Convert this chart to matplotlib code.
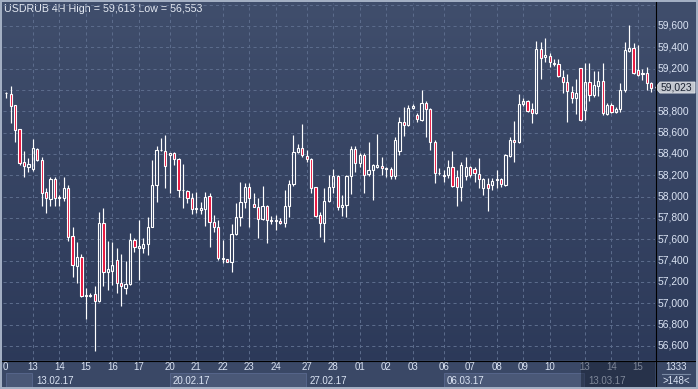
#!/usr/bin/env python3
"""
USDRUB 4H - grafico de velas (estilo terminal de trading)
Salva a figura em out.png (698x389 px).
"""

import numpy as np
import matplotlib
matplotlib.use('Agg')
import matplotlib.pyplot as plt
from matplotlib.patches import Rectangle, Polygon

W, H = 698, 389

# --- dados OHLC (um candle a cada 4 horas) ---
opens = [58969, 58962, 58859, 58632, 58322, 58281, 58259, 58444, 58344, 58041,
         57978, 58166, 57985, 57985, 58078, 57631, 57353, 57432, 57069, 57069,
         57085, 57025, 57750, 57297, 57306, 57406, 57193, 57148, 57181, 57594,
         57522, 57516, 57553, 57718, 58109, 58437, 58428, 58388, 58407, 58350,
         58062, 58056, 57985, 57882, 57875, 57882, 58006, 57766, 57713, 57413,
         57413, 57390, 57650, 57812, 57953, 58088, 57928, 57900, 57795, 57915,
         57781, 57775, 57775, 57756, 57915, 58116, 58416, 58459, 58381, 58353,
         58088, 57828, 57750, 57957, 58094, 58194, 57900, 57922, 58194, 58444,
         58313, 58391, 58210, 58250, 58281, 58287, 58266, 58257, 58197, 58431,
         58697, 58672, 58828, 58766, 58719, 58881, 58819, 58515, 58219, 58203,
         58203, 58281, 58187, 58094, 58194, 58275, 58257, 58210, 58078, 58116,
         58109, 58160, 58163, 58109, 58381, 58531, 58510, 58866, 58897, 58819,
         58782, 59381, 59307, 59322, 59241, 59241, 59119, 59078, 58984, 58928,
         59203, 58812, 59078, 58953, 59037, 59084, 58772, 58859, 58791, 58819,
         59000, 59368, 59391, 59187, 59147, 59162, 59069]
highs = [58984, 59037, 58862, 58635, 58428, 58360, 58538, 58453, 58369, 58078,
         58182, 58182, 58016, 58182, 58109, 57718, 57572, 57462, 57147, 57097,
         57162, 57853, 57894, 57584, 57572, 57516, 57462, 57397, 57656, 57610,
         57781, 57610, 57809, 58344, 58475, 58547, 58578, 58412, 58422, 58360,
         58306, 58062, 58032, 58047, 57953, 58047, 58037, 57828, 57781, 57594,
         57420, 57744, 57938, 58140, 58125, 58131, 58037, 57985, 58100, 57920,
         57819, 57828, 57803, 58062, 58156, 58578, 58491, 58681, 58437, 58365,
         58094, 57859, 58078, 58203, 58257, 58203, 58016, 58203, 58478, 58478,
         58407, 58412, 58515, 58306, 58587, 58375, 58275, 58275, 58562, 58744,
         58843, 58859, 58866, 58782, 59000, 58900, 58828, 58531, 58266, 58250,
         58344, 58428, 58250, 58328, 58375, 58287, 58281, 58360, 58172, 58178,
         58178, 58250, 58172, 58400, 58562, 58712, 58962, 58922, 58906, 58881,
         59459, 59453, 59485, 59344, 59288, 59291, 59187, 59150, 59037, 59103,
         59209, 59250, 59256, 59178, 59178, 59250, 58875, 58881, 58838, 59063,
         59453, 59613, 59438, 59422, 59194, 59219, 59078]
lows = [58922, 58693, 58515, 58297, 58187, 58234, 58243, 58337, 57912, 57844,
        57912, 57912, 57912, 57962, 57587, 57250, 57193, 57057, 56850, 57060,
        56553, 57015, 57162, 57125, 57172, 57097, 56978, 57088, 57172, 57478,
        57219, 57469, 57453, 57713, 57953, 58431, 58078, 58037, 58297, 57999,
        57897, 57938, 57837, 57844, 57837, 57725, 57525, 57672, 57406, 57381,
        57384, 57297, 57641, 57725, 57891, 57718, 57900, 57610, 57781, 57563,
        57744, 57687, 57744, 57718, 57812, 58103, 58407, 58375, 58322, 58032,
        57807, 57625, 57578, 57953, 58037, 57875, 57819, 57812, 58025, 58234,
        58281, 58037, 58194, 57969, 58272, 58203, 58187, 58163, 58163, 58391,
        58569, 58662, 58822, 58703, 58712, 58562, 58437, 58125, 58203, 58140,
        58178, 58094, 57912, 57962, 58156, 58187, 58140, 58078, 58016, 57869,
        58062, 58078, 58094, 58100, 58369, 58322, 58500, 58850, 58797, 58688,
        58775, 59100, 59260, 59213, 59225, 59119, 58975, 58703, 58875, 58772,
        58712, 58719, 58900, 58937, 58944, 58766, 58766, 58781, 58781, 58797,
        58984, 59359, 59147, 59131, 59094, 59000, 58984]
closes = [58972, 58853, 58625, 58318, 58290, 58303, 58453, 58344, 58037, 57985,
          58166, 57985, 57994, 58078, 57625, 57359, 57432, 57069, 57075, 57081,
          57025, 57750, 57297, 57319, 57359, 57188, 57160, 57181, 57594, 57531,
          57535, 57553, 57718, 58109, 58437, 58440, 58287, 58407, 58350, 58062,
          58060, 57985, 57882, 57894, 57894, 57994, 57766, 57713, 57422, 57428,
          57390, 57650, 57812, 57953, 58088, 57985, 57906, 57794, 57917, 57781,
          57775, 57778, 57756, 57915, 58116, 58416, 58459, 58391, 58350, 58078,
          57822, 57750, 57957, 58094, 58194, 57900, 57922, 58194, 58444, 58313,
          58391, 58203, 58250, 58297, 58297, 58266, 58257, 58197, 58531, 58697,
          58672, 58828, 58853, 58725, 58881, 58822, 58515, 58219, 58222, 58197,
          58281, 58100, 58094, 58297, 58281, 58203, 58219, 58166, 58163, 58078,
          58150, 58163, 58116, 58391, 58531, 58510, 58869, 58897, 58806, 58782,
          59381, 59297, 59328, 59265, 59256, 59131, 59078, 58991, 58928, 58969,
          58719, 59078, 58953, 59047, 59084, 58781, 58859, 58791, 58822, 59000,
          59375, 59391, 59157, 59141, 59162, 59063, 59023]

# --- eixo de tempo: inicio de cada dia / semana (indice do candle) ---
day_labels = ['0', '13', '14', '15', '16', '17', '20', '21', '22', '23', '24',
              '27', '28', '01', '02', '03', '06', '07', '08', '09', '10',
              '13', '14', '15']
day_starts = [-0.3, 6, 12, 18, 24, 30, 37, 43, 49, 55, 61,
              68, 74, 80, 86, 92, 99, 105, 111, 117, 123,
              131, 137, 143]
week_labels = ['13.02.17', '20.02.17', '27.02.17', '06.03.17', '13.03.17']
week_starts = [6, 37, 68, 99, 131]

price_ticks = list(range(56600, 59601, 200))
grid_levels = list(range(56600, 59801, 200))
last_price = 59023
title = 'USDRUB 4H High = 59,613 Low = 56,553'
bars_info = ('1333', '>148<')

# --- estilo ---
plt.rcParams['font.family'] = ['Liberation Sans', 'DejaVu Sans']
BG_TOP = np.array([0x40, 0x4e, 0x6c]) / 255
BG_BOT = np.array([0x2b, 0x38, 0x58]) / 255
RED = '#e8103a'
WHITE = '#ffffff'
GRID = '#5b6b8b'
TXT = '#dbe4f4'
FS = 7.4      # precos
FS_T = 7.7    # titulo
FS_X = 7.0    # eixo de tempo


def px_rect(x0, y0, x1, y1):
    """Retangulo em pixels (origem no topo) -> fracao da figura."""
    return [x0 / W, 1 - y1 / H, (x1 - x0) / W, (y1 - y0) / H]


def main():
    fig = plt.figure(figsize=(W / 100, H / 100), dpi=100)

    # fundo em pixels
    bg = fig.add_axes([0, 0, 1, 1])
    bg.set_xlim(0, W)
    bg.set_ylim(H, 0)
    bg.axis('off')
    grad = np.linspace(0, 1, 256)[:, None, None]
    img = BG_TOP + (BG_BOT - BG_TOP) * grad
    bg.imshow(img, extent=(0, W, H, 0), aspect='auto', interpolation='bilinear')

    # area do grafico
    ax = fig.add_axes(px_rect(3, 3, 655, 360))
    ax.set_zorder(1)
    ax.patch.set_visible(False)
    ax.set_xlim(-0.75, 146.85)
    ax.set_ylim(56468.75, 59815.6)
    for s in ax.spines.values():
        s.set_visible(False)
    ax.set_xticks([])
    ax.set_yticks([])

    def px_x(i):
        return ax.transData.transform((i, 0))[0]

    def px_y(p):
        return H - ax.transData.transform((0, p))[1]

    # grade tracejada
    for p in grid_levels:
        ax.axhline(p, color=GRID, lw=0.75, ls=(0, (3, 3)), zorder=0)
    for d in day_starts[1:]:
        ax.axvline(d, color=GRID, lw=0.75, ls=(0, (3, 3)), zorder=0)

    # velas
    o = np.array(opens, float)
    h = np.array(highs, float)
    lo = np.array(lows, float)
    c = np.array(closes, float)
    x = np.arange(len(o))
    top = np.maximum(o, c)
    bot = np.minimum(o, c)
    ax.vlines(x, top, h, color=WHITE, lw=0.85, zorder=2)
    ax.vlines(x, lo, bot, color=WHITE, lw=0.85, zorder=2)
    face = [RED if cc < oo else 'none' for oo, cc in zip(o, c)]
    ax.bar(x, np.maximum(top - bot, 2), bottom=bot, width=0.5,
           color=face, edgecolor=WHITE, linewidth=0.8, zorder=3)

    # eixo inferior
    bg.add_patch(Rectangle((0, 360), W, 29, facecolor='#3a4866', edgecolor='none', zorder=1))
    box_edges = [px_x(-0.75) + 3] + [px_x(w) for w in week_starts]
    for k in range(0, len(box_edges) - 1, 2):
        x0, x1 = box_edges[k], box_edges[k + 1]
        bg.add_patch(Rectangle((x0, 373), x1 - x0 - 1, 14, facecolor='#4a5877',
                               edgecolor='#56658a', lw=0.7, zorder=2))
    for lab, d in zip(day_labels, day_starts):
        bg.text(px_x(d), 367.5, lab, color=TXT, fontsize=FS_X, ha='center',
                va='center', zorder=3)
    for lab, w in zip(week_labels, week_starts):
        bg.text(px_x(w) + 3, 380.5, lab, color=TXT, fontsize=FS_X, ha='left',
                va='center', zorder=3)
    xo = px_x(week_starts[-1]) - 4
    bg.add_patch(Rectangle((xo, 361), 655 - xo, 26, facecolor='#10182a',
                           alpha=0.45, edgecolor='none', zorder=4))

    # eixo de precos (o rotulo escondido pela etiqueta do ultimo preco fica de fora)
    yl = px_y(last_price)
    for p in price_ticks:
        if abs(px_y(p) - yl) < 9:
            continue
        bg.text(658, px_y(p), f'{p:,}', color=TXT, fontsize=FS, ha='left',
                va='center', zorder=3)
    bg.add_patch(Polygon([(655.5, yl), (660, yl - 5.5), (695, yl - 5.5),
                          (695, yl + 5.5), (660, yl + 5.5)], closed=True,
                         facecolor='#c3c7cf', edgecolor='#e4e7ec', lw=0.6, zorder=5))
    bg.text(660.5, yl, f'{last_price:,}', color='#1a2232', fontsize=FS,
            ha='left', va='center', zorder=6)

    # contagem de barras
    bg.text(676, 367, bars_info[0], color=TXT, fontsize=FS_X, ha='center', va='center', zorder=3)
    bg.plot([662, 690], [373.5, 373.5], color='#7a8aa4', lw=0.8, zorder=3)
    bg.text(676, 380.5, bars_info[1], color=TXT, fontsize=FS_X, ha='center', va='center', zorder=3)

    # titulo
    bg.text(4, 8.5, title, color='#e6ebf4', fontsize=FS_T, ha='left', va='center', zorder=3)

    # linhas pretas e moldura
    bg.plot([655.5, 655.5], [0, 387], color='black', lw=0.8, zorder=7)
    bg.plot([0, W], [360.5, 360.5], color='black', lw=0.8, zorder=7)
    bg.add_patch(Rectangle((0.7, 0.7), W - 1.4, H - 1.4, facecolor='none',
                           edgecolor='#a6b2c6', lw=1.4, zorder=8))

    fig.savefig('out.png', dpi=100)


if __name__ == '__main__':
    main()
